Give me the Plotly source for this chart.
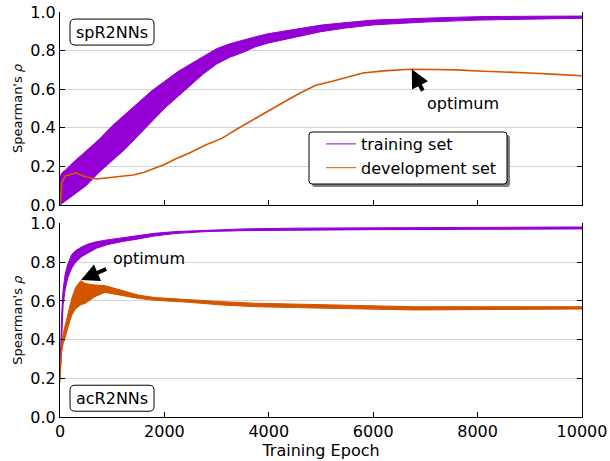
import plotly.graph_objects as go

# ---------------- data ----------------
# spR2NNs (top) - training set: noisy band (lower/upper envelope)
sp_train_epoch = [0, 50, 100, 250, 500, 750, 1000, 1250, 1500, 1750, 2000, 2250, 2500,
                  2750, 3000, 3250, 3500, 3750, 4000, 4500, 5000, 5500, 6000, 7000,
                  8000, 9000, 10000]
sp_train_low = [0.00, 0.01, 0.02, 0.05, 0.10, 0.17, 0.23, 0.29, 0.36, 0.43, 0.50, 0.56,
                0.62, 0.68, 0.73, 0.765, 0.79, 0.82, 0.84, 0.868, 0.898, 0.918, 0.933,
                0.948, 0.958, 0.963, 0.967]
sp_train_high = [0.15, 0.17, 0.18, 0.22, 0.28, 0.34, 0.41, 0.47, 0.53, 0.59, 0.64, 0.69,
                 0.73, 0.77, 0.81, 0.835, 0.855, 0.872, 0.888, 0.91, 0.932, 0.946, 0.958,
                 0.968, 0.976, 0.978, 0.979]
# spR2NNs - development set
sp_dev_epoch = [0, 20, 40, 100, 200, 300, 400, 500, 700, 900, 1200, 1400, 1600, 1800,
                2000, 2200, 2500, 2800, 3100, 3400, 3700, 4000, 4300, 4600, 4900, 5200,
                5500, 5800, 6200, 6700, 7200, 7600, 8000, 8500, 9000, 9500, 10000]
sp_dev = [0.0, 0.08, 0.12, 0.15, 0.16, 0.166, 0.155, 0.145, 0.135, 0.14, 0.147, 0.155,
          0.168, 0.188, 0.21, 0.237, 0.272, 0.312, 0.345, 0.395, 0.443, 0.49, 0.535,
          0.58, 0.62, 0.64, 0.66, 0.684, 0.695, 0.703, 0.702, 0.70, 0.694, 0.69, 0.684,
          0.677, 0.67]

# acR2NNs (bottom) - training set band
ac_train_epoch = [0, 30, 60, 100, 150, 225, 300, 420, 550, 700, 900, 1200, 1500, 1800,
                  2200, 2800, 3500, 4500, 6000, 8000, 10000]
ac_train_low = [0.20, 0.45, 0.58, 0.66, 0.72, 0.77, 0.80, 0.83, 0.85, 0.872, 0.89, 0.907,
                0.92, 0.935, 0.948, 0.958, 0.963, 0.966, 0.968, 0.970, 0.972]
ac_train_high = [0.22, 0.52, 0.66, 0.74, 0.79, 0.84, 0.86, 0.88, 0.895, 0.906, 0.915,
                 0.927, 0.937, 0.949, 0.958, 0.966, 0.972, 0.976, 0.978, 0.980, 0.982]
# acR2NNs - development set band
ac_dev_epoch = [0, 30, 60, 100, 160, 225, 300, 400, 480, 670, 860, 1180, 1500, 1820,
                2460, 3100, 3740, 5100, 6800, 10000]
ac_dev_low = [0.18, 0.33, 0.38, 0.41, 0.47, 0.527, 0.56, 0.58, 0.587, 0.622, 0.644, 0.63,
              0.613, 0.603, 0.593, 0.579, 0.57, 0.562, 0.553, 0.558]
ac_dev_high = [0.20, 0.37, 0.43, 0.475, 0.55, 0.613, 0.67, 0.705, 0.69, 0.682, 0.679,
               0.656, 0.63, 0.617, 0.605, 0.596, 0.588, 0.579, 0.57, 0.57]

# optimum annotations: (head epoch, head value, tail epoch, tail value, text epoch, text value)
sp_opt = [6740, 0.703, 6965, 0.584, 7718, 0.527]
ac_opt = [403, 0.708, 914, 0.768, 1700, 0.82]

x_ticks = [0, 2000, 4000, 6000, 8000, 10000]
x_tick_text = ["0", "2000", "4000", "6000", "8000", "10000"]
y_ticks = [0.0, 0.2, 0.4, 0.6, 0.8, 1.0]
labels = ["spR2NNs", "acR2NNs"]
legend_names = ["training set", "development set"]

PURPLE = "#9400d3"
ORANGE = "#d45500"
FONT = "DejaVu Sans"
FS = 16

fig = go.Figure()


def band(xs, lo, hi, color, xa, ya):
    fig.add_trace(go.Scatter(x=xs, y=lo, mode="lines", line=dict(color=color, width=1),
                             showlegend=False, hoverinfo="skip", xaxis=xa, yaxis=ya))
    fig.add_trace(go.Scatter(x=xs, y=hi, mode="lines", line=dict(color=color, width=1),
                             fill="tonexty", fillcolor=color, showlegend=False,
                             hoverinfo="skip", xaxis=xa, yaxis=ya))


# top
band(sp_train_epoch, sp_train_low, sp_train_high, PURPLE, "x", "y")
fig.add_trace(go.Scatter(x=sp_dev_epoch, y=sp_dev, mode="lines",
                         line=dict(color=ORANGE, width=1.6), showlegend=False,
                         xaxis="x", yaxis="y"))
# bottom
band(ac_train_epoch, ac_train_low, ac_train_high, PURPLE, "x2", "y2")
band(ac_dev_epoch, ac_dev_low, ac_dev_high, ORANGE, "x2", "y2")

# legend entries
fig.add_trace(go.Scatter(x=[None], y=[None], mode="lines", name=legend_names[0],
                         line=dict(color=PURPLE, width=1), xaxis="x", yaxis="y"))
fig.add_trace(go.Scatter(x=[None], y=[None], mode="lines", name=legend_names[1],
                         line=dict(color=ORANGE, width=1), xaxis="x", yaxis="y"))

# layout geometry
L, R, T, B = 60, 28, 12, 44
W, H = 610, 461
top_dom = [0.5235, 1.0]
bot_dom = [0.0, 0.4778]

ax_common = dict(range=[0, 10000], tickvals=x_ticks, ticktext=x_tick_text,
                 ticks="inside", ticklen=5, automargin=False,
                 tickwidth=1, tickcolor="black", showline=True, linecolor="black",
                 linewidth=1.2, showgrid=False, zeroline=False,
                 tickfont=dict(family=FONT, size=FS, color="black"))
ay_common = dict(range=[0, 1.0], tickvals=y_ticks, tickformat=".1f", ticks="inside",
                 ticklen=5, tickwidth=1, tickcolor="black", showline=True,
                 linecolor="black", linewidth=1.2, mirror="ticks", showgrid=True,
                 gridcolor="#d4d4d4", gridwidth=1, zeroline=False, automargin=False,
                 tickfont=dict(family=FONT, size=FS, color="black"),
                 title=dict(text="Spearman's <i>ρ</i>", font=dict(family=FONT, size=13,
                                                                  color="black"),
                            standoff=4))

top_ticks = dict(range=[0, 10000], tickvals=x_ticks, ticks="inside", ticklen=5,
                 tickwidth=1, tickcolor="black", showline=False, showgrid=False,
                 zeroline=False, showticklabels=False, side="top", automargin=False)

fig.update_layout(
    width=W, height=H, margin=dict(l=L, r=R, t=T, b=B),
    paper_bgcolor="white", plot_bgcolor="white",
    font=dict(family=FONT, color="black"),
    xaxis=dict(ax_common, domain=[0, 1], anchor="y", showticklabels=False),
    yaxis=dict(ay_common, domain=top_dom, anchor="x"),
    xaxis2=dict(ax_common, domain=[0, 1], anchor="y2",
                title=dict(text="Training Epoch", font=dict(family=FONT, size=FS),
                           standoff=2)),
    yaxis2=dict(ay_common, domain=bot_dom, anchor="x2"),
    xaxis3=dict(top_ticks, overlaying="x", anchor="y"),
    xaxis4=dict(top_ticks, overlaying="x2", anchor="y2"),
    showlegend=True,
    legend=dict(x=(321 - L) / 522, y=(417 - 127) / 405, xanchor="left", yanchor="top",
                bgcolor="rgba(0,0,0,0)", borderwidth=0, traceorder="normal",
                font=dict(family=FONT, size=FS, color="black"),
                tracegroupgap=0, itemwidth=30),
)


def px2paper(px, py):
    return (px - L) / 522.0, (417 - py) / 405.0


def rrect(w, h, r):
    return (f"M {-w + r},{-h} L {w - r},{-h} Q {w},{-h} {w},{-h + r} L {w},{h - r} "
            f"Q {w},{h} {w - r},{h} L {-w + r},{h} Q {-w},{h} {-w},{h - r} "
            f"L {-w},{-h + r} Q {-w},{-h} {-w + r},{-h} Z")


shapes = []
# legend shadow + box
lx, ly = px2paper(408, 158)
sx, sy = px2paper(411, 161)
shapes.append(dict(type="path", xref="paper", yref="paper", xsizemode="pixel",
                   ysizemode="pixel", xanchor=sx, yanchor=sy, path=rrect(99, 26, 3),
                   fillcolor="#7f7f7f", line=dict(width=0), layer="above"))
shapes.append(dict(type="path", xref="paper", yref="paper", xsizemode="pixel",
                   ysizemode="pixel", xanchor=lx, yanchor=ly, path=rrect(99, 26, 3),
                   fillcolor="white", line=dict(color="black", width=1), layer="above"))
# subplot label boxes
for (xa, ya, xv, yv) in [("x", "y", 997, 0.896), ("x2", "y2", 997, 0.097)]:
    shapes.append(dict(type="path", xref=xa, yref=ya, xsizemode="pixel",
                       ysizemode="pixel", xanchor=xv, yanchor=yv, path=rrect(42, 13, 5),
                       fillcolor="white", line=dict(color="black", width=1),
                       layer="above"))
fig.update_layout(shapes=shapes)

ann = []
ann.append(dict(x=997, y=0.896, xref="x", yref="y", text=labels[0], showarrow=False,
                font=dict(family=FONT, size=FS, color="black")))
ann.append(dict(x=997, y=0.097, xref="x2", yref="y2", text=labels[1], showarrow=False,
                font=dict(family=FONT, size=FS, color="black")))
for opt, xa, ya in [(sp_opt, "x", "y"), (ac_opt, "x2", "y2")]:
    hx, hy, tx, ty, txx, tyy = opt
    ann.append(dict(x=hx, y=hy, ax=tx, ay=ty, xref=xa, yref=ya, axref=xa, ayref=ya,
                    text="", showarrow=True, arrowhead=2, arrowsize=0.9, arrowwidth=4,
                    arrowcolor="black", standoff=0, startstandoff=0))
    ann.append(dict(x=txx, y=tyy, xref=xa, yref=ya, text="optimum", showarrow=False,
                    font=dict(family=FONT, size=FS, color="black")))
fig.update_layout(annotations=ann)

fig.write_html("out.html")
